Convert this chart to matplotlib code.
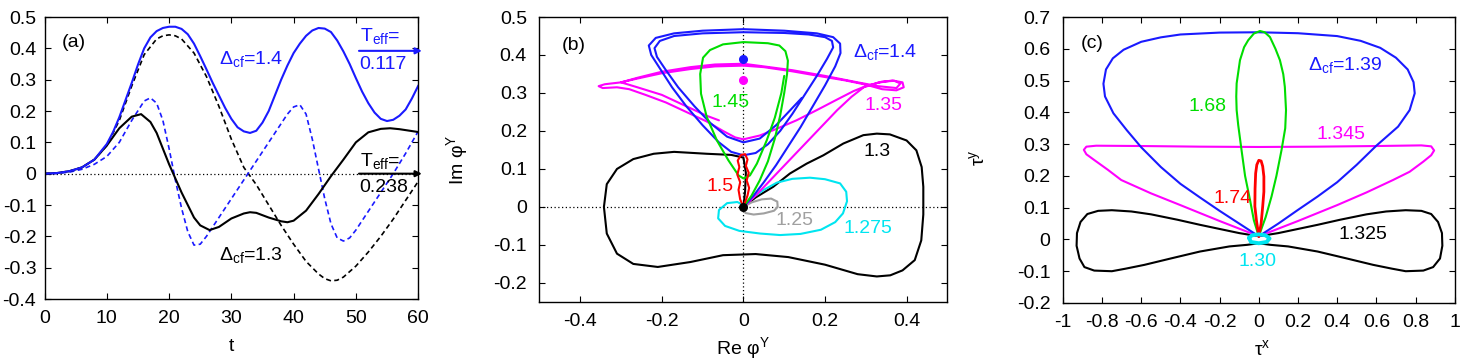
import matplotlib
matplotlib.use('Agg')
import matplotlib.pyplot as plt
from matplotlib.ticker import FuncFormatter, MultipleLocator

plt.rcParams['font.family'] = ['Liberation Sans', 'DejaVu Sans']
plt.rcParams['mathtext.fontset'] = 'custom'
plt.rcParams['mathtext.rm'] = 'Liberation Sans'
plt.rcParams['mathtext.it'] = 'Liberation Sans:italic'
plt.rcParams['axes.unicode_minus'] = False

BLUE = '#1a1aff'
GREEN = '#00dd00'
MAGENTA = '#ff00ff'
CYAN = '#00e5f0'
RED = '#ff0000'
GRAY = '#a0a0a0'

# ---------------- panel (a): Im phi^Y versus t ----------------
t_b14 = [0, 2, 4, 6, 8, 10, 11, 12, 13, 14, 15, 16, 17, 18, 19, 20, 21, 22, 23, 24, 25,
         26, 27, 28, 29, 30, 31, 32, 33, 34, 35, 36, 37, 38, 39, 40, 41, 42, 43, 44, 45,
         46, 47, 48, 49, 50, 51, 52, 53, 54, 55, 56, 57, 58, 59, 60]
y_b14 = [0, 0.002, 0.008, 0.02, 0.045, 0.095, 0.133, 0.18, 0.235, 0.29, 0.348, 0.4, 0.435,
         0.455, 0.465, 0.469, 0.469, 0.462, 0.445, 0.415, 0.375, 0.333, 0.29, 0.25, 0.21,
         0.175, 0.148, 0.135, 0.13, 0.137, 0.163, 0.2, 0.25, 0.3, 0.345, 0.385, 0.415,
         0.44, 0.457, 0.465, 0.463, 0.452, 0.425, 0.39, 0.35, 0.305, 0.262, 0.225, 0.195,
         0.175, 0.168, 0.172, 0.185, 0.205, 0.24, 0.28]

t_b14d = [0, 2, 4, 6, 8, 10, 12, 14, 16, 17, 18, 19, 20, 21, 22, 23, 24, 25, 26, 28, 30,
          32, 34, 36, 38, 39, 40, 41, 42, 43, 44, 45, 46, 47, 48, 49, 50, 52, 54, 56, 58, 60]
y_b14d = [0, 0.001, 0.005, 0.014, 0.03, 0.055, 0.1, 0.17, 0.232, 0.242, 0.225, 0.17, 0.08,
          -0.02, -0.11, -0.185, -0.228, -0.225, -0.2, -0.14, -0.08, -0.02, 0.04, 0.1, 0.16,
          0.19, 0.213, 0.22, 0.19, 0.11, 0.015, -0.08, -0.16, -0.205, -0.215, -0.205, -0.18,
          -0.12, -0.06, 0.0, 0.065, 0.135]

t_k13 = [0, 2, 4, 6, 8, 10, 12, 14, 15.5, 17, 18, 19, 20, 21, 22, 23, 24, 25, 26.5, 28,
         30, 32, 33, 34, 36, 38, 39, 40, 42, 44, 46, 48, 50, 52, 54, 55.5, 57, 60]
y_k13 = [0, 0.002, 0.008, 0.02, 0.045, 0.09, 0.145, 0.182, 0.19, 0.165, 0.13, 0.08, 0.03,
         -0.015, -0.06, -0.1, -0.14, -0.165, -0.18, -0.17, -0.143, -0.127, -0.123, -0.125,
         -0.14, -0.152, -0.155, -0.15, -0.118, -0.065, -0.008, 0.045, 0.1, 0.132, 0.143,
         0.145, 0.142, 0.133]

t_k13d = [0, 2, 4, 6, 8, 10, 12, 14, 16, 18, 19, 20, 21, 22, 24, 26, 28, 30, 32, 34, 36,
          38, 40, 42, 44, 45, 46, 47, 48, 50, 52, 54, 56, 58, 60]
y_k13d = [0, 0.002, 0.008, 0.02, 0.045, 0.09, 0.17, 0.28, 0.38, 0.43, 0.44, 0.443, 0.44,
          0.43, 0.385, 0.31, 0.215, 0.11, 0.02, -0.035, -0.1, -0.165, -0.225, -0.28, -0.32,
          -0.335, -0.342, -0.34, -0.33, -0.295, -0.25, -0.2, -0.145, -0.085, -0.025]

# ---------------- panel (b): trajectories in the (Re, Im) plane ----------------
b_13 = [(0, 0), (0.03, 0.025), (0.073, 0.053), (0.114, 0.088), (0.155, 0.114), (0.196, 0.136),
        (0.245, 0.167), (0.294, 0.189), (0.327, 0.193), (0.359, 0.191), (0.4, 0.175),
        (0.424, 0.149), (0.437, 0.105), (0.441, 0.053), (0.441, -0.02), (0.436, -0.088),
        (0.42, -0.14), (0.39, -0.167), (0.36, -0.18), (0.327, -0.183), (0.28, -0.177),
        (0.2, -0.152), (0.11, -0.132), (0.03, -0.124), (-0.05, -0.127), (-0.13, -0.145),
        (-0.21, -0.158), (-0.27, -0.15), (-0.31, -0.123), (-0.335, -0.07), (-0.342, 0.0),
        (-0.335, 0.06), (-0.31, 0.1), (-0.27, 0.126), (-0.22, 0.14), (-0.17, 0.145),
        (-0.09, 0.14), (-0.03, 0.137), (0.0, 0.13), (0.006, 0.09), (0.004, 0.04), (0, 0)]
b_1275 = [(0, 0), (0.016, 0.02), (0.05, 0.045), (0.082, 0.064), (0.12, 0.074), (0.163, 0.077),
          (0.2, 0.073), (0.237, 0.062), (0.252, 0.04), (0.254, 0.015), (0.244, -0.017),
          (0.225, -0.04), (0.19, -0.06), (0.14, -0.071), (0.09, -0.074), (0.041, -0.07),
          (-0.01, -0.063), (-0.045, -0.05), (-0.062, -0.03), (-0.06, -0.008), (-0.04, 0.01),
          (-0.015, 0.013), (0, 0.005)]
b_125 = [(0, 0), (0.02, 0.012), (0.045, 0.02), (0.068, 0.022), (0.083, 0.014), (0.084, 0.0),
         (0.075, -0.01), (0.05, -0.017), (0.025, -0.02), (0.005, -0.016), (0, -0.008), (0, 0)]
b_15 = [(0, 0), (-0.008, 0.02), (-0.012, 0.045), (-0.008, 0.065), (-0.015, 0.085),
        (-0.01, 0.105), (-0.014, 0.122), (-0.006, 0.137), (0.004, 0.139), (0.01, 0.125),
        (0.006, 0.108), (0.013, 0.09), (0.008, 0.07), (0.014, 0.05), (0.01, 0.03),
        (0.004, 0.012), (0, 0)]
b_145 = [(0, 0), (0.02, 0.03), (0.04, 0.07), (0.06, 0.12), (0.077, 0.18), (0.09, 0.24),
         (0.1, 0.3), (0.107, 0.35), (0.109, 0.385), (0.103, 0.41), (0.088, 0.425),
         (0.06, 0.431), (0.0, 0.434), (-0.05, 0.428), (-0.082, 0.413), (-0.099, 0.393),
         (-0.106, 0.35), (-0.104, 0.298), (-0.09, 0.237), (-0.065, 0.175), (-0.037, 0.123),
         (-0.012, 0.083), (0, 0.075), (0.016, 0.083), (0.033, 0.114), (0.057, 0.175),
         (0.077, 0.235), (0.093, 0.3), (0.1, 0.345)]
b_14 = [(0, 0), (0.025, 0.03), (0.05, 0.065), (0.08, 0.11), (0.11, 0.16), (0.14, 0.21),
        (0.17, 0.265), (0.2, 0.32), (0.225, 0.37), (0.238, 0.405), (0.237, 0.43),
        (0.22, 0.447), (0.18, 0.457), (0.1, 0.464), (0.0, 0.468), (-0.1, 0.464),
        (-0.17, 0.457), (-0.215, 0.445), (-0.232, 0.425), (-0.226, 0.4), (-0.205, 0.365),
        (-0.175, 0.315), (-0.14, 0.265), (-0.1, 0.215), (-0.06, 0.17), (-0.03, 0.145),
        (0.0, 0.136), (0.03, 0.142), (0.06, 0.165), (0.09, 0.2), (0.12, 0.245),
        (0.15, 0.295), (0.18, 0.345), (0.205, 0.39), (0.22, 0.42), (0.217, 0.437),
        (0.2, 0.447), (0.16, 0.454), (0.1, 0.458), (0.0, 0.46), (-0.1, 0.457),
        (-0.17, 0.45), (-0.205, 0.437), (-0.218, 0.418), (-0.212, 0.395), (-0.19, 0.36),
        (-0.16, 0.315), (-0.12, 0.265), (-0.08, 0.22), (-0.04, 0.185), (0.0, 0.17),
        (0.04, 0.18), (0.08, 0.215), (0.115, 0.255), (0.143, 0.287)]
b_135 = [(0, 0), (0.03, 0.03), (0.07, 0.075), (0.11, 0.12), (0.15, 0.165), (0.19, 0.21),
         (0.23, 0.255), (0.265, 0.29), (0.295, 0.315), (0.33, 0.327), (0.365, 0.333),
         (0.39, 0.328), (0.393, 0.315), (0.375, 0.307), (0.34, 0.31), (0.3, 0.322),
         (0.25, 0.333), (0.2, 0.342), (0.12, 0.357), (0.05, 0.368), (0.0, 0.372),
         (-0.07, 0.37), (-0.13, 0.363), (-0.2, 0.352), (-0.26, 0.338), (-0.3, 0.328),
         (-0.34, 0.323), (-0.355, 0.318), (-0.345, 0.313), (-0.31, 0.315), (-0.28, 0.31),
         (-0.24, 0.295), (-0.19, 0.275), (-0.14, 0.25), (-0.09, 0.225), (-0.05, 0.2),
         (-0.02, 0.183), (0.0, 0.178), (0.04, 0.188), (0.08, 0.205), (0.13, 0.228),
         (0.18, 0.255), (0.23, 0.283), (0.27, 0.305), (0.3, 0.318), (0.34, 0.33),
         (0.37, 0.332), (0.385, 0.325), (0.375, 0.313), (0.33, 0.318), (0.28, 0.328),
         (0.2, 0.345), (0.12, 0.36), (0.05, 0.37), (0.0, 0.377), (-0.07, 0.375),
         (-0.13, 0.368), (-0.2, 0.356), (-0.26, 0.34), (-0.3, 0.328), (-0.26, 0.315),
         (-0.2, 0.295), (-0.14, 0.265), (-0.09, 0.24), (-0.06, 0.228)]
b_dots = [(0, 0.39, BLUE), (0, 0.335, MAGENTA), (0, 0.0, 'black')]

# ---------------- panel (c): (tau^x, tau^y) loops ----------------
c_139 = [(0, 0.01), (-0.1, 0.05), (-0.2, 0.09), (-0.3, 0.132), (-0.4, 0.175), (-0.5, 0.228),
         (-0.6, 0.29), (-0.674, 0.344), (-0.742, 0.397), (-0.785, 0.45), (-0.793, 0.49),
         (-0.78, 0.535), (-0.745, 0.57), (-0.69, 0.597), (-0.6, 0.622), (-0.5, 0.636),
         (-0.4, 0.645), (-0.2, 0.651), (0.0, 0.652), (0.2, 0.649), (0.4, 0.64), (0.52, 0.625),
         (0.62, 0.603), (0.7, 0.572), (0.76, 0.535), (0.79, 0.495), (0.796, 0.46),
         (0.77, 0.407), (0.711, 0.355), (0.652, 0.323), (0.6, 0.295), (0.5, 0.235),
         (0.4, 0.18), (0.3, 0.135), (0.2, 0.093), (0.1, 0.05), (0, 0.01)]
c_168 = [(0, 0.01), (-0.025, 0.06), (-0.045, 0.125), (-0.07, 0.2), (-0.088, 0.281),
         (-0.105, 0.36), (-0.113, 0.407), (-0.115, 0.45), (-0.113, 0.491), (-0.096, 0.564),
         (-0.075, 0.605), (-0.054, 0.627), (-0.025, 0.648), (0.006, 0.656), (0.03, 0.652),
         (0.057, 0.637), (0.085, 0.6), (0.108, 0.564), (0.125, 0.52), (0.133, 0.48),
         (0.139, 0.407), (0.135, 0.35), (0.116, 0.281), (0.09, 0.2), (0.065, 0.135),
         (0.035, 0.07), (0, 0.01)]
c_174 = [(0, 0.01), (-0.012, 0.06), (-0.02, 0.104), (-0.019, 0.16), (-0.016, 0.208),
         (-0.01, 0.235), (0, 0.249), (0.012, 0.247), (0.02, 0.23), (0.026, 0.198),
         (0.026, 0.15), (0.02, 0.104), (0.012, 0.05), (0, 0.01)]
c_1345 = [(0, 0.01), (-0.2, 0.058), (-0.4, 0.108), (-0.55, 0.145), (-0.702, 0.187),
          (-0.77, 0.219), (-0.84, 0.25), (-0.88, 0.268), (-0.893, 0.282), (-0.88, 0.292),
          (-0.83, 0.295), (-0.6, 0.294), (-0.3, 0.292), (0.0, 0.291), (0.3, 0.292),
          (0.6, 0.294), (0.83, 0.296), (0.88, 0.293), (0.895, 0.28), (0.88, 0.265),
          (0.84, 0.245), (0.77, 0.213), (0.685, 0.187), (0.55, 0.148), (0.4, 0.108),
          (0.2, 0.058), (0, 0.01)]
c_1325 = [(0, 0.01), (0.1, 0.02), (0.2, 0.033), (0.3, 0.046), (0.415, 0.062), (0.55, 0.079),
          (0.65, 0.088), (0.75, 0.092), (0.83, 0.09), (0.88, 0.08), (0.915, 0.055),
          (0.935, 0.02), (0.937, -0.02), (0.925, -0.06), (0.89, -0.087), (0.84, -0.098),
          (0.75, -0.1), (0.68, -0.092), (0.584, -0.08), (0.45, -0.06), (0.3, -0.038),
          (0.15, -0.022), (0.06, -0.017), (0, -0.012), (-0.06, -0.017), (-0.15, -0.022),
          (-0.3, -0.038), (-0.45, -0.06), (-0.584, -0.08), (-0.68, -0.092), (-0.75, -0.1),
          (-0.84, -0.098), (-0.89, -0.087), (-0.915, -0.06), (-0.93, -0.02), (-0.928, 0.02),
          (-0.91, 0.055), (-0.875, 0.08), (-0.82, 0.09), (-0.75, 0.092), (-0.65, 0.088),
          (-0.55, 0.079), (-0.415, 0.062), (-0.3, 0.046), (-0.2, 0.033), (-0.1, 0.02),
          (0, 0.01)]
c_130 = [(-0.05, 0.005), (-0.035, 0.013), (0, 0.016), (0.035, 0.013), (0.055, 0.003),
         (0.04, -0.008), (0, -0.012), (-0.04, -0.008), (-0.05, 0.005)]

LW = 1.5
TXT = 14


def loop(ax, pts, color, lw=LW):
    xs, ys = zip(*pts)
    ax.plot(xs, ys, color=color, lw=lw, solid_joinstyle='round', solid_capstyle='round')


def gp_style(ax, ypad=9):
    ax.tick_params(direction='in', top=True, right=True, length=4, width=0.8,
                   labelsize=14)
    ax.tick_params(axis='x', pad=8)
    ax.tick_params(axis='y', pad=ypad)
    for s in ax.spines.values():
        s.set_linewidth(1.0)
    fmt = FuncFormatter(lambda v, p: '%g' % (round(v, 3) + 0.0))
    ax.xaxis.set_major_formatter(fmt)
    ax.yaxis.set_major_formatter(fmt)


fig = plt.figure(figsize=(14.62, 3.62), dpi=100)
ax_a = fig.add_axes([0.0305, 0.174, 0.2555, 0.779])
ax_b = fig.add_axes([0.369, 0.166, 0.279, 0.787])
ax_c = fig.add_axes([0.727, 0.163, 0.268, 0.790])

# ---- (a)
ax_a.plot([0, 60], [0, 0], color='black', lw=0.9, ls=(0, (1, 2)))
ax_a.plot(t_k13d, y_k13d, color='black', lw=1.2, ls=(0, (3, 2)))
ax_a.plot(t_b14d, y_b14d, color=BLUE, lw=1.2, ls=(0, (3, 2)))
ax_a.plot(t_k13, y_k13, color='black', lw=LW)
ax_a.plot(t_b14, y_b14, color=BLUE, lw=LW)
ax_a.set_xlim(0, 60)
ax_a.set_ylim(-0.4, 0.5)
ax_a.xaxis.set_major_locator(MultipleLocator(10))
ax_a.yaxis.set_major_locator(MultipleLocator(0.1))
gp_style(ax_a, ypad=6)
ax_a.set_xlabel('t', fontsize=14)
ax_a.xaxis.set_label_coords(0.5, -0.14)
ax_a.text(2.8, 0.42, '(a)', fontsize=TXT, va='center')
ax_a.text(28.0, 0.367, 'Δ$_{\\rm cf}$=1.4', color=BLUE, fontsize=TXT, va='center')
ax_a.text(28.0, -0.26, 'Δ$_{\\rm cf}$=1.3', color='black', fontsize=TXT, va='center')
ax_a.text(50.6, 0.44, 'T$_{\\rm eff}$=', color=BLUE, fontsize=TXT, va='center')
ax_a.text(50.6, 0.35, '0.117', color=BLUE, fontsize=TXT, va='center')
ax_a.text(50.6, 0.04, 'T$_{\\rm eff}$=', color='black', fontsize=TXT, va='center')
ax_a.text(50.6, -0.043, '0.238', color='black', fontsize=TXT, va='center')
ax_a.annotate('', xy=(60.6, 0.392), xytext=(50.5, 0.392), annotation_clip=False,
              arrowprops=dict(arrowstyle='-|>', color=BLUE, lw=1.5, mutation_scale=9,
                              shrinkA=0, shrinkB=0))
ax_a.annotate('', xy=(60.6, 0.0), xytext=(50.5, 0.0), annotation_clip=False,
              arrowprops=dict(arrowstyle='-|>', color='black', lw=1.5, mutation_scale=9,
                              shrinkA=0, shrinkB=0))

# ---- (b)
ax_b.axhline(0, color='black', lw=0.9, ls=(0, (1, 2)))
ax_b.axvline(0, color='black', lw=0.9, ls=(0, (1, 2)))
loop(ax_b, b_13, 'black')
loop(ax_b, b_1275, CYAN)
loop(ax_b, b_125, GRAY)
loop(ax_b, b_135, MAGENTA)
loop(ax_b, b_14, BLUE)
loop(ax_b, b_145, GREEN)
loop(ax_b, b_15, RED)
for x, y, c in b_dots:
    ax_b.plot(x, y, 'o', color=c, ms=5.5)
ax_b.set_xlim(-0.5, 0.5)
ax_b.set_ylim(-0.25, 0.5)
ax_b.xaxis.set_major_locator(MultipleLocator(0.2))
ax_b.yaxis.set_major_locator(MultipleLocator(0.1))
gp_style(ax_b)
ax_b.set_xlabel('Re φ$^{\\rm Y}$', fontsize=14)
ax_b.xaxis.set_label_coords(0.5, -0.115)
ax_b.set_ylabel('Im φ$^{\\rm Y}$', fontsize=14)
ax_b.yaxis.set_label_coords(-0.17, 0.5)
ax_b.text(-0.445, 0.425, '(b)', fontsize=TXT, va='center')
ax_b.text(0.268, 0.408, 'Δ$_{\\rm cf}$=1.4', color=BLUE, fontsize=TXT, va='center')
ax_b.text(-0.079, 0.276, '1.45', color=GREEN, fontsize=TXT, va='center')
ax_b.text(0.296, 0.268, '1.35', color=MAGENTA, fontsize=TXT, va='center')
ax_b.text(0.294, 0.145, '1.3', color='black', fontsize=TXT, va='center')
ax_b.text(-0.09, 0.053, '1.5', color=RED, fontsize=TXT, va='center')
ax_b.text(0.078, -0.035, '1.25', color=GRAY, fontsize=TXT, va='center')
ax_b.text(0.245, -0.057, '1.275', color=CYAN, fontsize=TXT, va='center')

# ---- (c)
loop(ax_c, c_1325, 'black')
loop(ax_c, c_1345, MAGENTA)
loop(ax_c, c_139, BLUE)
loop(ax_c, c_168, GREEN)
loop(ax_c, c_174, RED, lw=2.0)
loop(ax_c, c_130, CYAN, lw=2.8)
ax_c.set_xlim(-1, 1)
ax_c.set_ylim(-0.2, 0.7)
ax_c.xaxis.set_major_locator(MultipleLocator(0.2))
ax_c.yaxis.set_major_locator(MultipleLocator(0.1))
gp_style(ax_c)
ax_c.set_xlabel('τ$^{\\rm x}$', fontsize=14)
ax_c.xaxis.set_label_coords(0.508, -0.125)
ax_c.set_ylabel('τ$^{\\rm y}$', fontsize=14)
ax_c.yaxis.set_label_coords(-0.19, 0.51)
ax_c.text(-0.91, 0.618, '(c)', fontsize=TXT, va='center')
ax_c.text(0.252, 0.548, 'Δ$_{\\rm cf}$=1.39', color=BLUE, fontsize=TXT, va='center')
ax_c.text(-0.36, 0.417, '1.68', color=GREEN, fontsize=TXT, va='center')
ax_c.text(0.295, 0.329, '1.345', color=MAGENTA, fontsize=TXT, va='center')
ax_c.text(-0.23, 0.13, '1.74', color=RED, fontsize=TXT, va='center')
ax_c.text(0.405, 0.015, '1.325', color='black', fontsize=TXT, va='center')
ax_c.text(-0.105, -0.07, '1.30', color=CYAN, fontsize=TXT, va='center')

fig.savefig('out.png', dpi=100)
